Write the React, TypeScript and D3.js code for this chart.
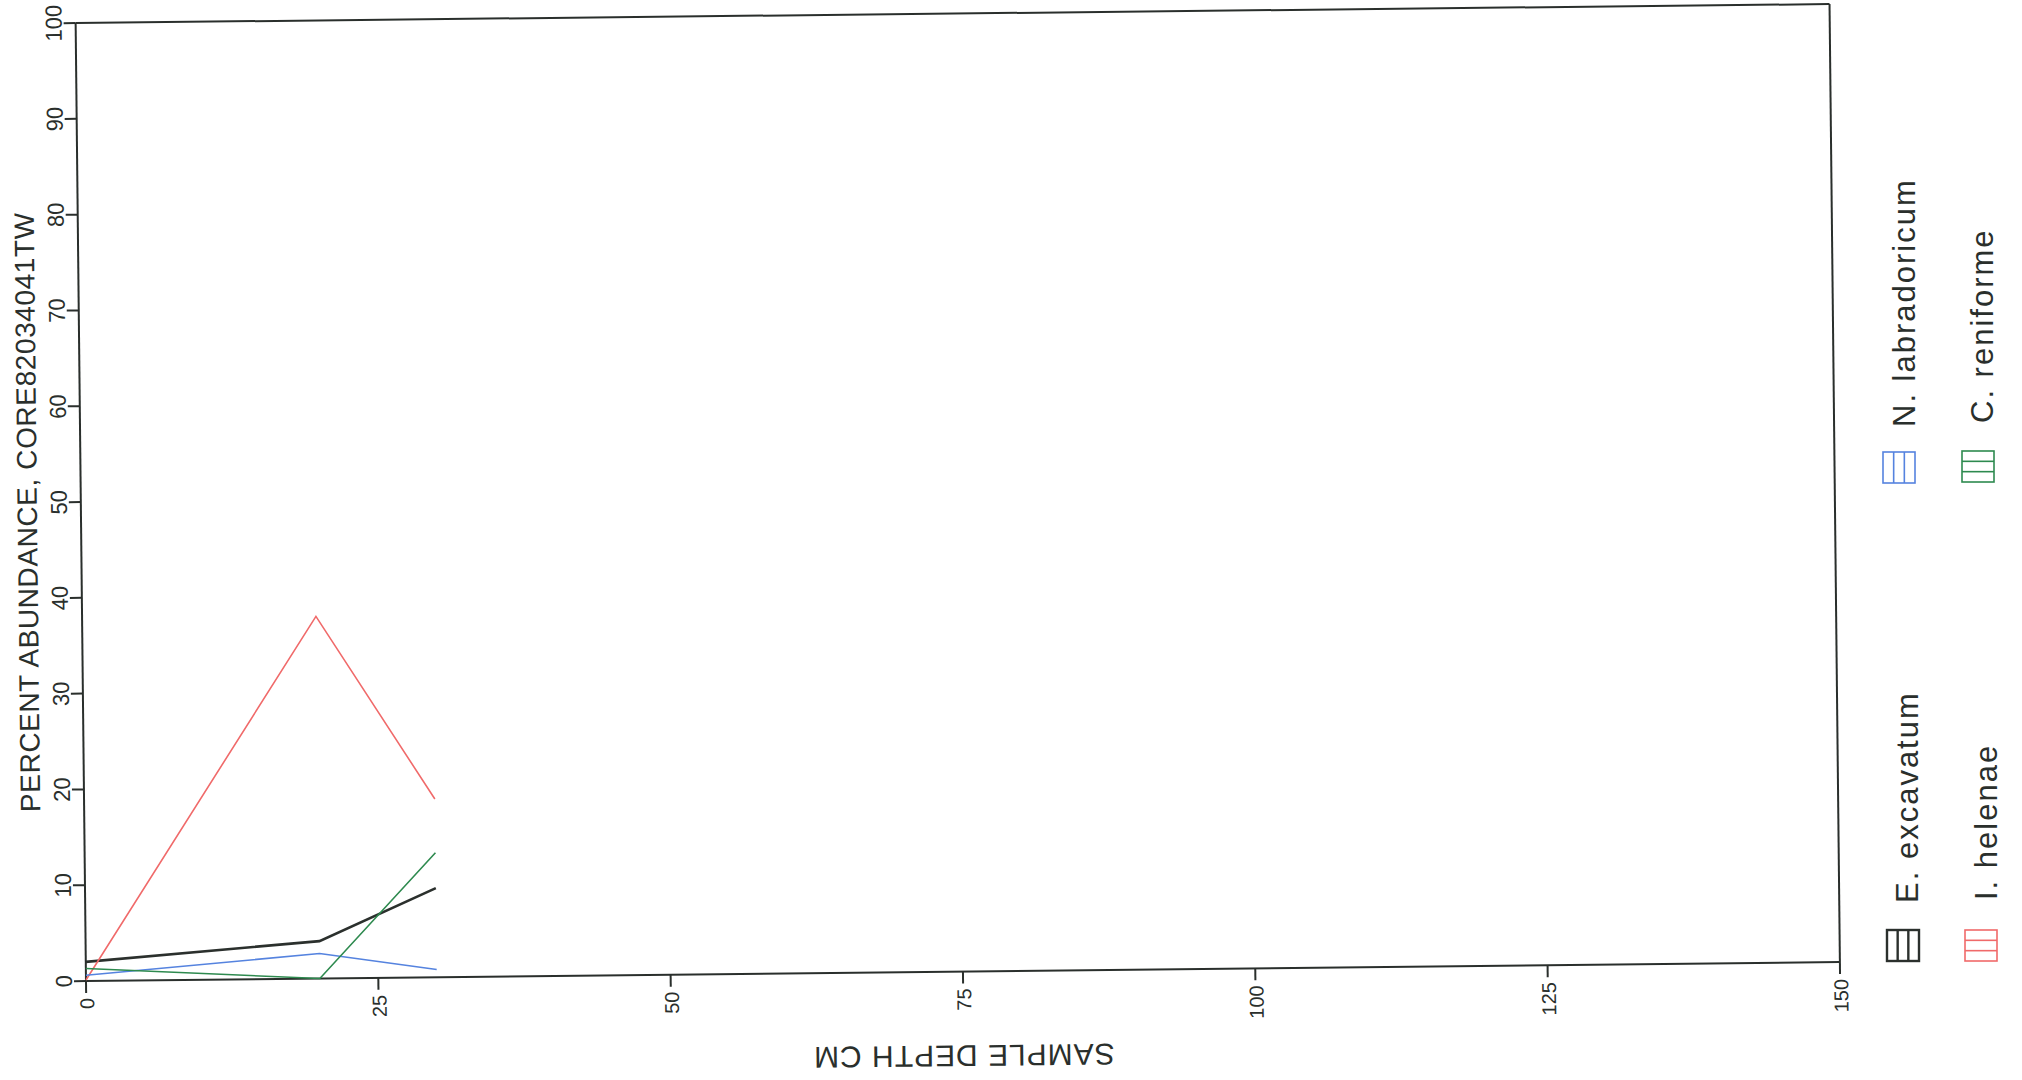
import React from "react";
import * as d3 from "d3";

const depths = [0, 20, 30];
const eExcavatum = [2.0, 3.9, 9.3];
const iHelenae = [0.1, 37.8, 18.6];
const nLabradoricum = [0.6, 2.6, 0.8];
const cReniforme = [1.3, 0.0, 13.0];

const xTicks = [0, 25, 50, 75, 100, 125, 150];
const yTicks = [0, 10, 20, 30, 40, 50, 60, 70, 80, 90, 100];

const seriesNames = ["E. excavatum", "I. helenae", "N. labradoricum", "C. reniforme"];
const seriesValues = [eExcavatum, iHelenae, nLabradoricum, cReniforme];
const seriesColors = ["#2b302d", "#f06a6a", "#5583df", "#2e8a4f"];
const seriesWidths = [2.6, 1.6, 1.6, 1.6];
const swatchStripe = ["v", "h", "v", "h"];

const xTitle = "SAMPLE DEPTH CM";
const yTitle = "PERCENT ABUNDANCE, CORE82034041TW";

// legend layout (screen coords, unrotated)
const legendPos = [
  { sx: 1887, sy: 930, tx: 1918, ty: 903 },
  { sx: 1965, sy: 930, tx: 1997, ty: 900 },
  { sx: 1883, sy: 452, tx: 1915, ty: 427 },
  { sx: 1962, sy: 451, tx: 1993, ty: 423 },
];

export default function App() {
  const W = 1754;
  const H = 958;
  const x = d3.scaleLinear().domain([0, 150]).range([0, W]);
  const y = d3.scaleLinear().domain([0, 100]).range([0, -H]);
  const line = d3
    .line<number>()
    .x((_, i) => x(depths[i]))
    .y((d) => y(d));
  const axisColor = "#2a2f2c";
  const font = "'Liberation Sans', Arial, sans-serif";

  return (
    <svg
      width={2022}
      height={1080}
      style={{ position: "absolute", left: 0, top: 0, background: "#fff" }}
    >
      <rect x={0} y={0} width={2022} height={1080} fill="#fff" />
      <g transform="translate(86,981) rotate(-0.62)">
        {/* frame */}
        <line x1={0} y1={0} x2={W} y2={0} stroke={axisColor} strokeWidth={2} />
        <line x1={0} y1={0} x2={0} y2={-H} stroke={axisColor} strokeWidth={2} />
        <line x1={0} y1={-H} x2={W} y2={-H} stroke={axisColor} strokeWidth={2} />
        <line x1={W} y1={0} x2={W} y2={-H} stroke={axisColor} strokeWidth={2} />
        {/* y ticks */}
        {yTicks.map((t) => (
          <g key={"y" + t}>
            <line x1={-12} y1={y(t)} x2={0} y2={y(t)} stroke={axisColor} strokeWidth={2} />
            <text
              transform={`translate(-14,${y(t)}) rotate(-90) scale(1.05,1.1)`}
              textAnchor="middle"
              fontFamily={font}
              fontSize={21}
              fill="#2a2f2c"
            >
              {t}
            </text>
          </g>
        ))}
        {/* x ticks */}
        {xTicks.map((t) => (
          <g key={"x" + t}>
            <line x1={x(t)} y1={0} x2={x(t)} y2={12} stroke={axisColor} strokeWidth={2} />
            <text
              transform={`translate(${x(t) + 8},17) rotate(-90)`}
              textAnchor="end"
              fontFamily={font}
              fontSize={20}
              fill="#2a2f2c"
            >
              {t}
            </text>
          </g>
        ))}
        {/* titles */}
        <text
          transform={`translate(-44,${y(49)}) rotate(-90)`}
          textAnchor="middle"
          fontFamily={font}
          fontSize={28}
          letterSpacing={0.6}
          fill="#2a2f2c"
        >
          {yTitle}
        </text>
        <text
          transform={`translate(${x(75)},74) rotate(180)`}
          textAnchor="middle"
          fontFamily={font}
          fontSize={30}
          letterSpacing={1}
          fill="#2a2f2c"
        >
          {xTitle}
        </text>
        {/* series */}
        {seriesValues.map((vals, i) => (
          <path
            key={"s" + i}
            d={line(vals) || ""}
            fill="none"
            stroke={seriesColors[i]}
            strokeWidth={seriesWidths[i]}
          />
        ))}
      </g>
      {/* legend */}
      {seriesNames.map((name, i) => {
        const p = legendPos[i];
        const w = 32;
        const h = 31;
        const c = seriesColors[i];
        const sw = i === 0 ? 2.4 : 1.6;
        return (
          <g key={"l" + i}>
            <rect x={p.sx} y={p.sy} width={w} height={h} fill="none" stroke={c} strokeWidth={sw} />
            {swatchStripe[i] === "v"
              ? [1, 2].map((k) => (
                  <line
                    key={k}
                    x1={p.sx + (w * k) / 3}
                    y1={p.sy}
                    x2={p.sx + (w * k) / 3}
                    y2={p.sy + h}
                    stroke={c}
                    strokeWidth={sw}
                  />
                ))
              : [1, 2].map((k) => (
                  <line
                    key={k}
                    x1={p.sx}
                    y1={p.sy + (h * k) / 3}
                    x2={p.sx + w}
                    y2={p.sy + (h * k) / 3}
                    stroke={c}
                    strokeWidth={sw}
                  />
                ))}
            <text
              transform={`translate(${p.tx},${p.ty}) rotate(-90)`}
              textAnchor="start"
              fontFamily={font}
              fontSize={31}
              letterSpacing={2}
              fill="#2a2f2c"
            >
              {name}
            </text>
          </g>
        );
      })}
    </svg>
  );
}
